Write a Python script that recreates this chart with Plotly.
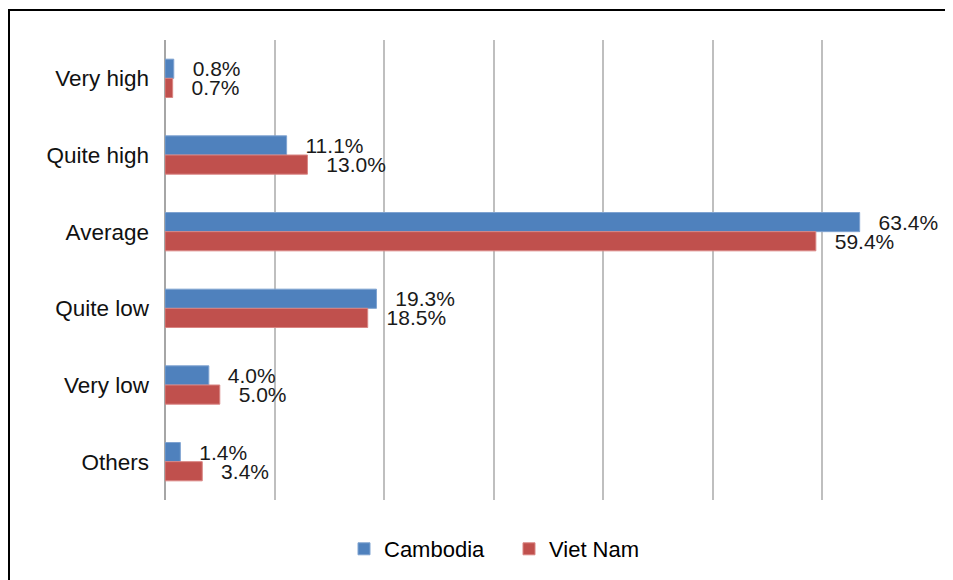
import plotly.graph_objects as go

categories = ["Very high", "Quite high", "Average", "Quite low", "Very low", "Others"]
cambodia = [0.8, 11.1, 63.4, 19.3, 4.0, 1.4]
vietnam = [0.7, 13.0, 59.4, 18.5, 5.0, 3.4]

BLUE = "#4F81BD"
RED = "#C0504D"
PAD = "\u00a0\u00a0\u2009"
FONT = "Liberation Sans, Arial"

# page body has an 8px margin; figure is sized so the plot lands where the reference has it
W, H = 945, 572
ML, MR, MT, MB = 157, 21, 32, 80
PW, PH = W - ML - MR, H - MT - MB

fig = go.Figure()
for name, vals, col, lcol in [("Cambodia", cambodia, BLUE, "#7FA3D1"),
                               ("Viet Nam", vietnam, RED, "#D98583")]:
    fig.add_trace(go.Bar(
        name=name, y=categories, x=vals, orientation="h",
        marker=dict(color=col, line=dict(color=lcol, width=1)),
        text=[PAD + f"{v:.1f}%" for v in vals], textposition="outside",
        constraintext="none",
        textfont=dict(family=FONT, size=21, color="#1a1a1a"),
        cliponaxis=False,
    ))

fig.update_layout(
    width=W, height=H,
    margin=dict(l=ML, r=MR, t=MT, b=MB, autoexpand=False),
    paper_bgcolor="white", plot_bgcolor="white",
    barmode="group", bargap=0.5, bargroupgap=0,
    font=dict(family=FONT, color="#000000"),
    xaxis=dict(range=[0, 70], dtick=10, showticklabels=False, showgrid=True,
               gridcolor="#BFBFBF", gridwidth=2, zeroline=True,
               zerolinecolor="#A6A6A6", zerolinewidth=2, showline=False, fixedrange=True),
    yaxis=dict(autorange="reversed", tickfont=dict(size=22.5, color="#111111"),
               ticks="", showgrid=False, ticklabelstandoff=15),
    legend=dict(orientation="h", x=(344 - 8 - ML) / PW, xanchor="left",
                y=(H - MB - (549 - 8)) / PH, yanchor="middle",
                font=dict(size=22, color="#000000"), bgcolor="rgba(0,0,0,0)",
                entrywidth=120, traceorder="normal"),
    showlegend=True,
    shapes=[dict(type="rect", xref="paper", yref="paper",
                 x0=(1 - ML) / PW, x1=(W + 20 - ML) / PW,
                 y0=(H - MB - (H + 20)) / PH, y1=(H - MB - 2) / PH,
                 line=dict(color="black", width=2), fillcolor="rgba(0,0,0,0)", layer="below")],
)

fig.write_html("out.html")
